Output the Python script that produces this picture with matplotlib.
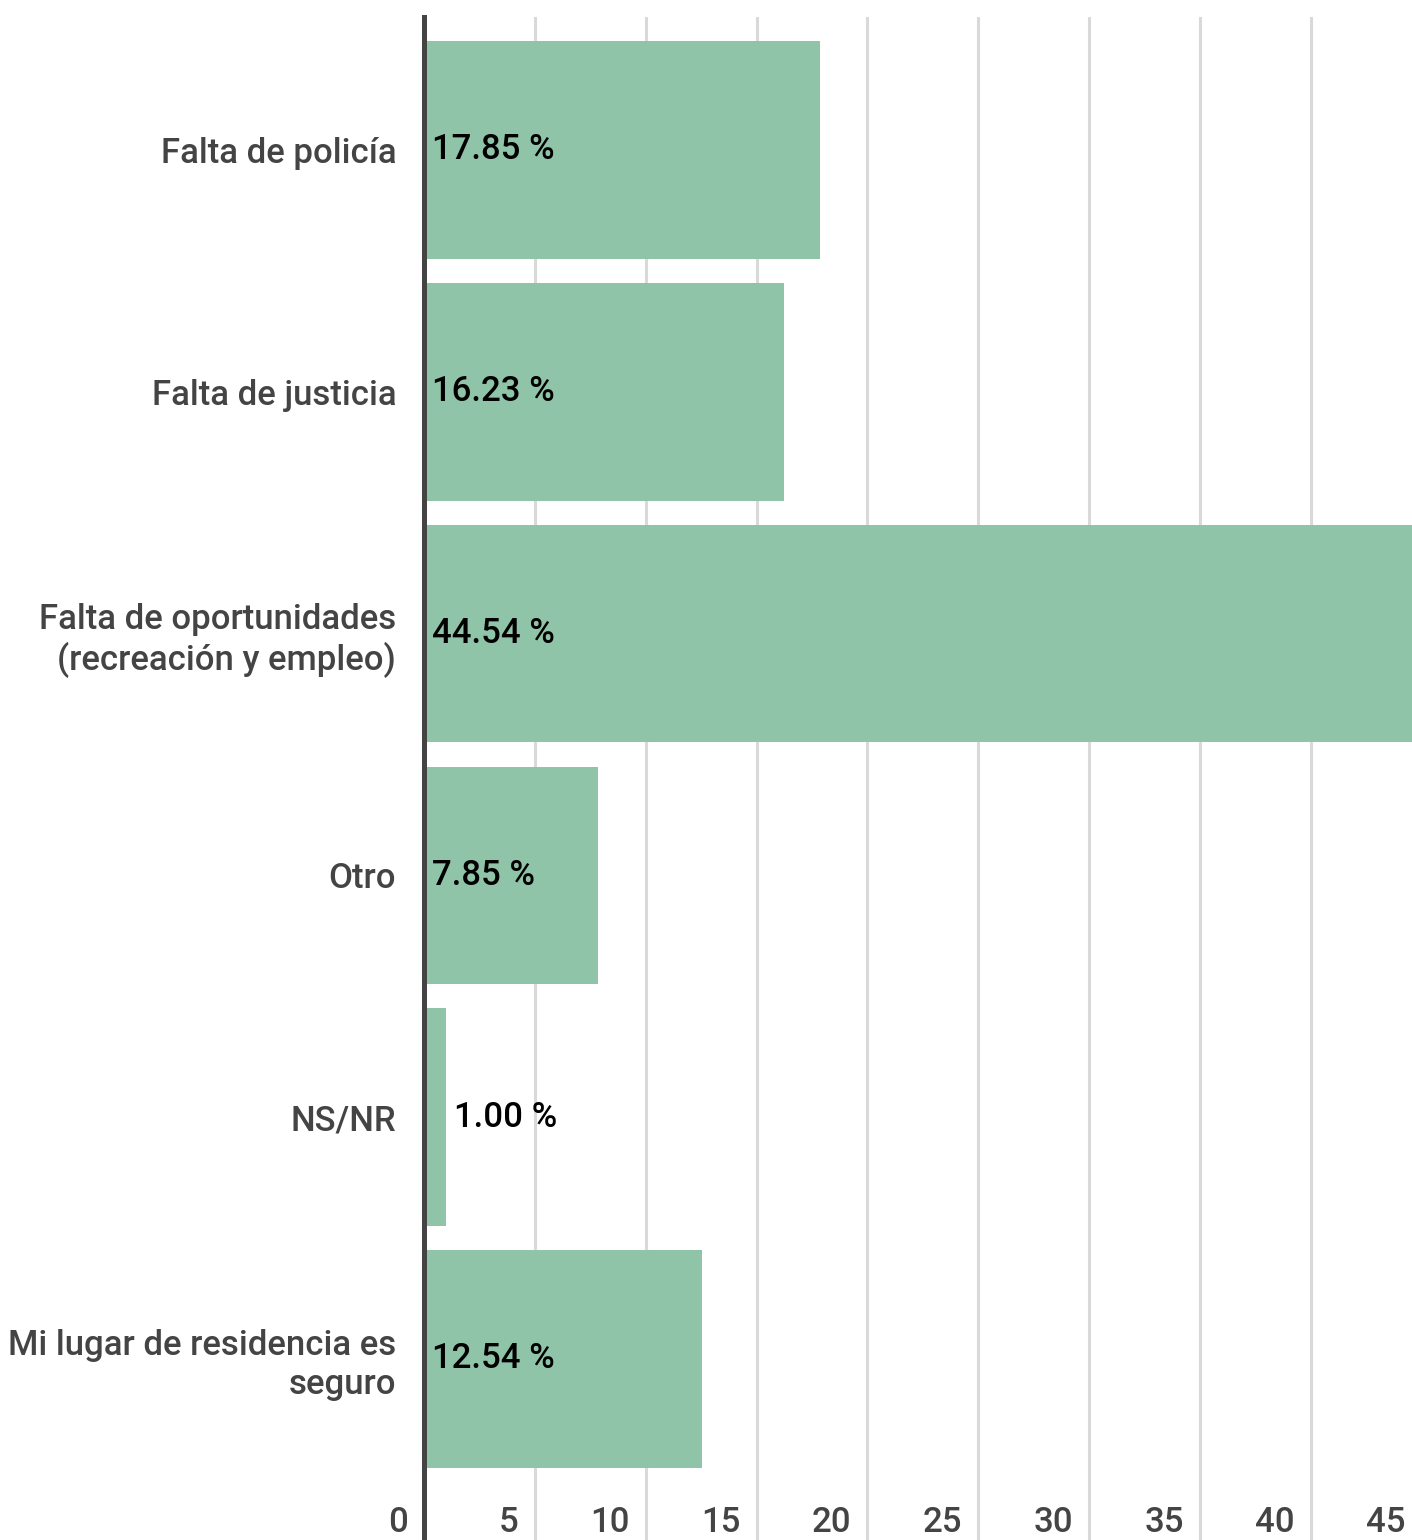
import matplotlib.pyplot as plt
import matplotlib.transforms as mtransforms

plt.rcParams['font.family'] = ['Roboto', 'DejaVu Sans']

categorias = ['Falta de policía', 'Falta de justicia',
              'Falta de oportunidades\n(recreación y empleo)', 'Otro', 'NS/NR',
              'Mi lugar de residencia es\nseguro']
valores = [17.85, 16.23, 44.54, 7.85, 1.00, 12.54]
ticks = [0, 5, 10, 15, 20, 25, 30, 35, 40, 45]

W, H = 1412, 1540
fig = plt.figure(figsize=(W / 100, H / 100), dpi=100)
ax = fig.add_axes([424 / W, 0, 1 - 424 / W, (H - 17) / H])

y = list(range(len(categorias)))
ax.barh(y, valores, height=0.9, color='#8fc4a9', zorder=2)

ax.set_xticks(ticks[1:])
ax.set_xlim(0, 44.56)
ax.set_ylim(5.749, -0.55)
ax.xaxis.grid(True, color='#d9d9d9', linewidth=2.2, zorder=0)
ax.tick_params(axis='x', length=0, labelbottom=False)
ax.set_yticks(y)
ax.set_yticklabels(categorias, fontsize=25, color='#444444', fontweight='medium',
                   linespacing=1.2)
ax.tick_params(axis='y', length=0, pad=20)
for s in ['top', 'right', 'bottom']:
    ax.spines[s].set_visible(False)
ax.spines['left'].set_color('#444444')
ax.spines['left'].set_linewidth(3.6)
ax.spines['left'].set_zorder(3)

off = mtransforms.ScaledTranslation(-16 / 100, 0, fig.dpi_scale_trans)
for t in ticks:
    ax.text(t, 18 / (H - 17), str(t), transform=ax.get_xaxis_transform() + off,
            ha='right', va='center', fontsize=25, color='#444444',
            fontweight='medium', clip_on=False)

off2 = mtransforms.ScaledTranslation(8 / 100, 0, fig.dpi_scale_trans)
for yi, v in zip(y, valores):
    x = 0 if v > 5 else v
    ax.text(x, yi, f'{v:.2f} %', transform=ax.transData + off2, ha='left',
            va='center', fontsize=25, color='black', fontweight='medium', zorder=4)

fig.savefig('out.png', dpi=100)
